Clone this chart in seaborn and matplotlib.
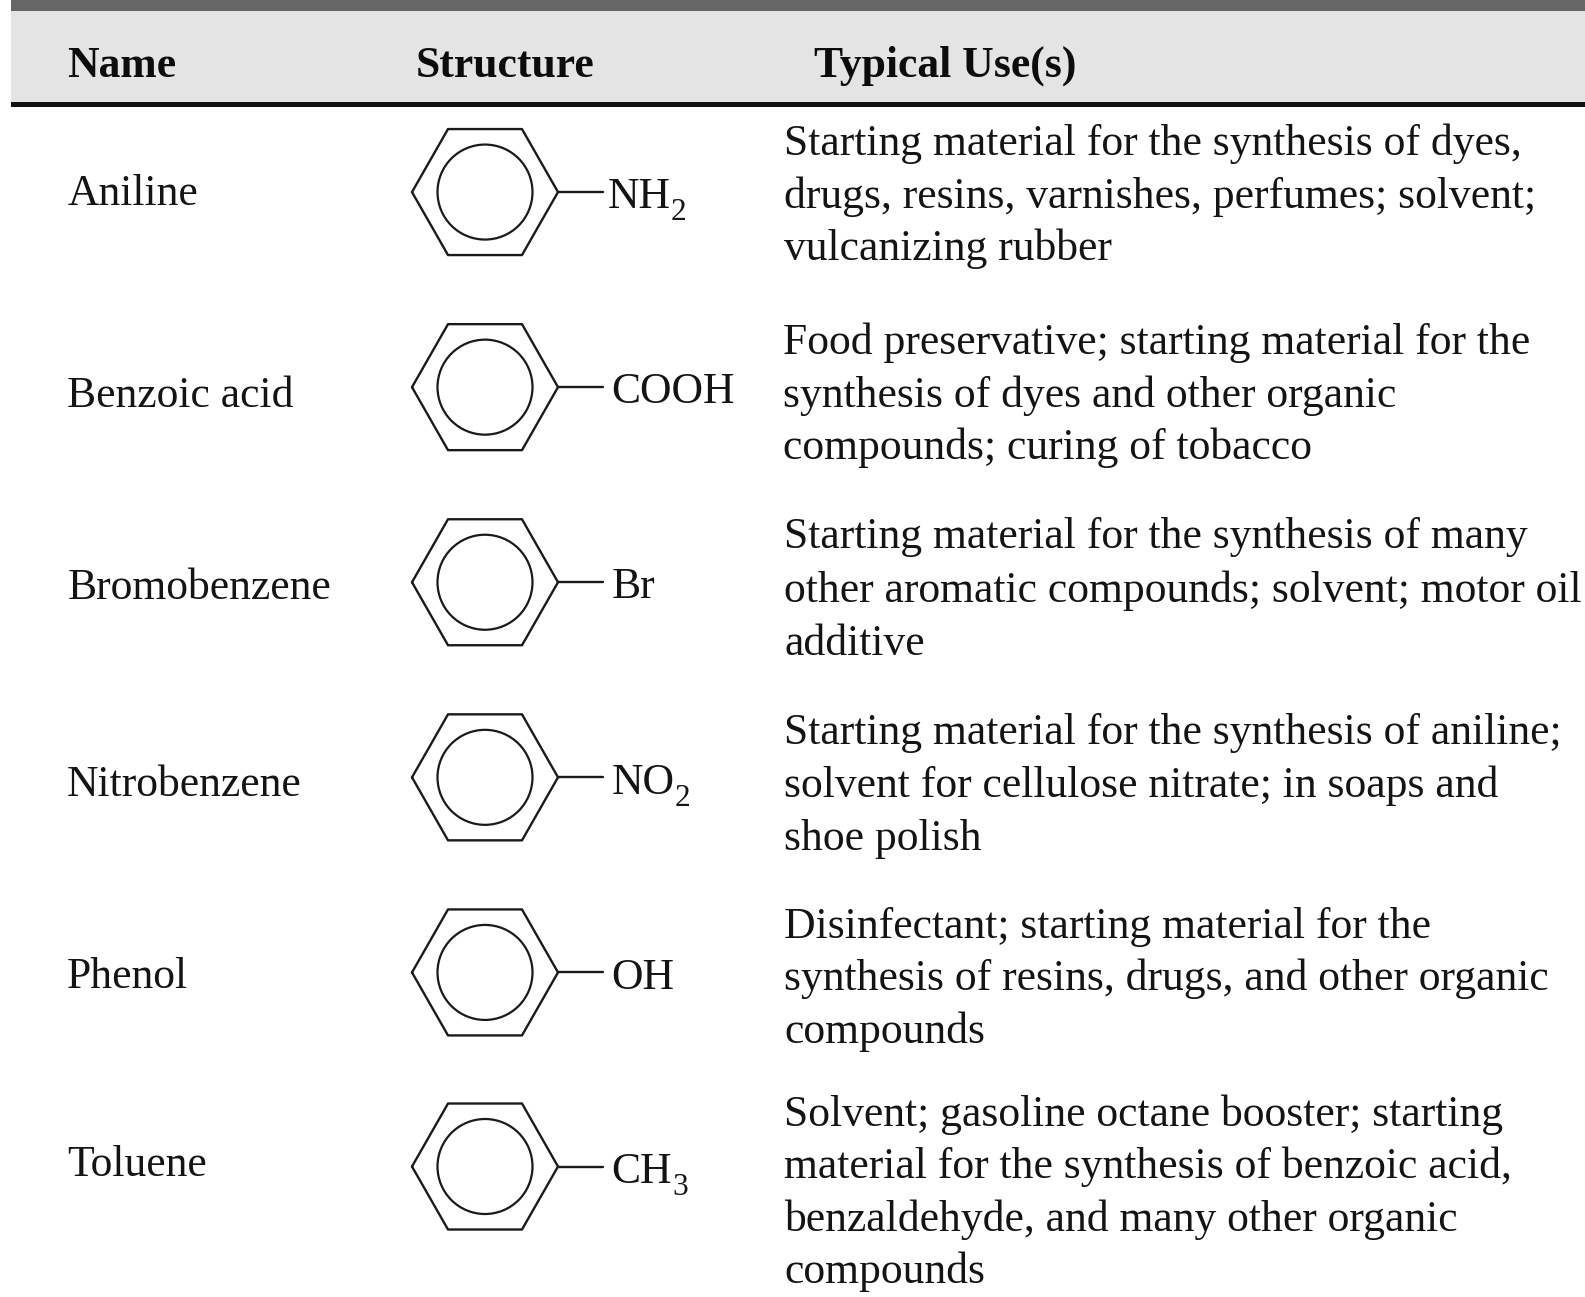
import numpy as np
import pandas as pd
import matplotlib
matplotlib.use("Agg")
import matplotlib.pyplot as plt
from matplotlib.patches import Ellipse, Rectangle
import seaborn as sns

sns.set_theme(style="white")
plt.rcParams["font.family"] = ["Liberation Serif", "DejaVu Serif"]

W, H = 1585, 1297
S = 1585 / 1568

headers = ["Name", "Structure", "Typical Use(s)"]
header_x = [66, 411, 805]
names = ["Aniline", "Benzoic acid", "Bromobenzene", "Nitrobenzene", "Phenol", "Toluene"]
name_base = [203, 403, 593, 787, 977, 1163]
groups = ["NH", "COOH", "Br", "NO", "OH", "CH"]
subs = ["2", "", "", "2", "", "3"]
group_x = [601, 605, 605, 605, 605, 605]
ring_y = [190, 383, 576, 769, 962, 1154]
uses = [
    ["Starting material for the synthesis of dyes,",
     "drugs, resins, varnishes, perfumes; solvent;",
     "vulcanizing rubber"],
    ["Food preservative; starting material for the",
     "synthesis of dyes and other organic",
     "compounds; curing of tobacco"],
    ["Starting material for the synthesis of many",
     "other aromatic compounds; solvent; motor oil",
     "additive"],
    ["Starting material for the synthesis of aniline;",
     "solvent for cellulose nitrate; in soaps and",
     "shoe polish"],
    ["Disinfectant; starting material for the",
     "synthesis of resins, drugs, and other organic",
     "compounds"],
    ["Solvent; gasoline octane booster; starting",
     "material for the synthesis of benzoic acid,",
     "benzaldehyde, and many other organic",
     "compounds"],
]
use_base = [
    [153.5, 205.5, 257.5],
    [350.5, 402.5, 454.5],
    [542.5, 595.5, 647.5],
    [736.5, 788.5, 840.5],
    [927.5, 979.5, 1031.5],
    [1113.5, 1165.5, 1217.5, 1269.5],
]
use_x = [776, 775, 776, 776, 776, 776]

fig = plt.figure(figsize=(W / 100, H / 100), dpi=100, facecolor="white")
ax = fig.add_axes([0, 0, 1, 1])
ax.set_xlim(0, W)
ax.set_ylim(H, 0)
ax.axis("off")

INK = "#141414"
FS = 31.4
ax.add_patch(Rectangle((11, 0), W, 10.5, color="#666666", lw=0))
ax.add_patch(Rectangle((11, 10.5), W, 91.5, color="#e4e4e4", lw=0))
ax.add_patch(Rectangle((11, 102), W, 4.5, color="#111111", lw=0))

for h, x in zip(headers, header_x):
    ax.text(x * S, 76 * S, h, fontsize=31.4, fontweight="bold", color="#0c0c0c", va="baseline")

# benzene outline offsets relative to ring centre
hex_dx = [-73, -37, 37, 73, 37, -37, -73]
hex_dy = [0, -63, -63, 0, 63, 63, 0]
ring_x = 485
rows = []
for i, cy in enumerate(ring_y):
    for k, (dx, dy) in enumerate(zip(hex_dx, hex_dy)):
        rows.append(dict(row=f"h{i}", order=k, x=ring_x + dx, y=cy * S + dy))
    rows.append(dict(row=f"b{i}", order=0, x=ring_x + 73, y=cy * S))
    rows.append(dict(row=f"b{i}", order=1, x=ring_x + 118, y=cy * S))
df = pd.DataFrame(rows)
sns.lineplot(data=df, x="x", y="y", units="row", estimator=None, sort=False,
             color="#1a1a1a", lw=1.7, ax=ax, legend=False)
ax.set_xlim(0, W)
ax.set_ylim(H, 0)
ax.axis("off")

for cy in ring_y:
    ax.add_patch(Ellipse((ring_x, cy * S), 95, 95, fill=False, ec="#1a1a1a", lw=1.6))

fig.canvas.draw()
rend = fig.canvas.get_renderer()
for name, nb, g, sb, gx, cy in zip(names, name_base, groups, subs, group_x, ring_y):
    ax.text(66.5 * S, nb * S, name, fontsize=FS, color=INK, va="baseline")
    base = (cy + 16) * S
    t = ax.text(gx * S, base, g, fontsize=FS, color=INK, va="baseline")
    if sb:
        right = t.get_window_extent(rend).x1
        ax.text(right, base + 12, sb, fontsize=FS * 0.72, color=INK, va="baseline")

for lines, bases, x in zip(uses, use_base, use_x):
    for line, b in zip(lines, bases):
        ax.text(x * S, b * S, line, fontsize=FS, color=INK, va="baseline")

fig.savefig("out.png", dpi=100)
